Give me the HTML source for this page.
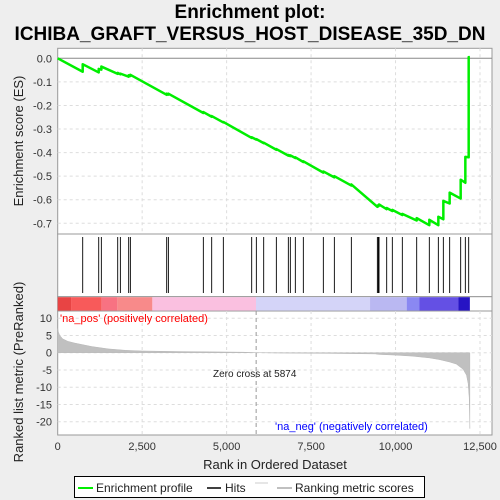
<!DOCTYPE html>
<html><head><meta charset="utf-8"><style>
html,body{margin:0;padding:0;background:#eeeeee;}
svg{display:block;font-family:"Liberation Sans","DejaVu Sans",sans-serif;}
</style></head><body>
<svg id="c" width="500" height="500" viewBox="0 0 500 500">
<rect x="0" y="0" width="500" height="500" fill="#eeeeee"/>
<text x="250" y="18" text-anchor="middle" font-size="19" font-weight="bold" fill="#000">Enrichment plot:</text>
<text x="250" y="40" text-anchor="middle" font-size="19" font-weight="bold" fill="#000">ICHIBA_GRAFT_VERSUS_HOST_DISEASE_35D_DN</text>
<g id="g"></g>
</svg>
<script>
const hitRanks=[740,1214,1292,1776,1855,2101,2151,3226,3276,4311,4558,4903,5742,5880,6097,6472,6827,6886,7034,7271,7863,8189,8692,9462,9491,9511,9738,9905,10201,10626,11000,11267,11415,11602,11928,12066,12165];
const esBefore=[-0.057,-0.060,-0.048,-0.066,-0.068,-0.078,-0.075,-0.155,-0.154,-0.232,-0.248,-0.272,-0.338,-0.345,-0.360,-0.388,-0.413,-0.415,-0.423,-0.440,-0.485,-0.505,-0.540,-0.630,-0.628,-0.625,-0.640,-0.648,-0.665,-0.688,-0.708,-0.708,-0.683,-0.616,-0.595,-0.528,-0.420];
const esAfter=[-0.025,-0.045,-0.035,-0.062,-0.065,-0.072,-0.070,-0.150,-0.150,-0.228,-0.245,-0.270,-0.335,-0.343,-0.358,-0.385,-0.410,-0.412,-0.420,-0.437,-0.480,-0.500,-0.535,-0.625,-0.623,-0.620,-0.635,-0.643,-0.660,-0.678,-0.685,-0.672,-0.605,-0.570,-0.515,-0.418,0.005];
const metricRanks=[0,20,60,150,300,500,700,1000,1500,2000,2500,3500,4500,5500,5874,6500,8000,9400,9500,10000,10500,11000,11300,11600,11800,12000,12100,12150,12180,12200];
const metricVals=[7,6,5,4,3.3,2.8,2.4,1.8,1.1,0.7,0.5,0.35,0.25,0.15,0,-0.1,-0.2,-0.35,-0.5,-0.7,-1.0,-1.5,-2.0,-2.7,-3.3,-4.8,-6.5,-9,-13,-22];
const barStarts=[0,395,1302,1766,2802,5870,9245,10330,10709,11864];
const barColors=["#e84444","#f85a5a","#f87282","#f88a8a","#fac0e0","#d4d4f8","#bab8f2","#8a88f2","#6450e4","#2614c4"];
const esTicks=[0,-0.1,-0.2,-0.3,-0.4,-0.5,-0.6,-0.7];
const metricTicks=[10,5,0,-5,-10,-15,-20];
const rankTicks=[0,2500,5000,7500,10000,12500];
const rankLabels=["0","2,500","5,000","7,500","10,000","12,500"];
const maxRank=12200;

const NS="http://www.w3.org/2000/svg";
const G=document.getElementById('g');
const L=57.7,R=492;
const X=r=>L+r*(480-57.7)/12500;
const YE=v=>58.3-v*(223.3-58.3)/0.7;
const YM=v=>352.7-v*(421.7-352.7)/20;
function mk(t,a,p){const e=document.createElementNS(NS,t);for(const k in a)e.setAttribute(k,a[k]);(p||G).appendChild(e);return e;}

// panels
let p1=mk('rect',{x:L,y:48.3,width:R-L,height:234-48.3,fill:'#fff',stroke:'#999'});


let p2=mk('rect',{x:L,y:234,width:R-L,height:296.7-234,fill:'#fff',stroke:'#999'});


let p3=mk('rect',{x:L,y:296.7,width:R-L,height:311-296.7,fill:'#fff',stroke:'#999'});


let p4=mk('rect',{x:L,y:311,width:R-L,height:435-311,fill:'#fff',stroke:'#999'});



// grids
rankTicks.forEach((r,i)=>{
 if(i===0)return;
 let g1=mk('line',{x1:X(r),x2:X(r),y1:48.3,y2:234,stroke:'#ddd','stroke-dasharray':'3,3'});
 
 
 let g2=mk('line',{x1:X(r),x2:X(r),y1:311,y2:435,stroke:'#ddd','stroke-dasharray':'3,3'});
 
 
});
esTicks.forEach(v=>{
 let g=mk('line',{x1:L,x2:R,y1:YE(v),y2:YE(v),stroke:v===0?'#888':'#ddd','stroke-dasharray':v===0?'':'3,3'});
 
 
 let t=mk('text',{x:52,y:YE(v)+4,'text-anchor':'end','font-size':11,fill:'#333'});
 t.textContent=v===0?'0.0':v.toFixed(1);
 
 
});
metricTicks.forEach(v=>{
 let g=mk('line',{x1:L,x2:R,y1:YM(v),y2:YM(v),stroke:'#ddd','stroke-dasharray':'3,3'});
 
 
 let t=mk('text',{x:52,y:YM(v)+4,'text-anchor':'end','font-size':11,fill:'#333'});
 t.textContent=String(v);
 
 
});
rankTicks.forEach((r,i)=>{
 let t=mk('text',{x:X(r),y:450,'text-anchor':'middle','font-size':11,fill:'#333'});
 t.textContent=rankLabels[i];
 
 
});

// color bar
barStarts.forEach((s,i)=>{
 const e=i<barStarts.length-1?barStarts[i+1]:maxRank;
 let b=mk('rect',{x:X(s),y:297.2,width:X(e)-X(s),height:13.4,fill:barColors[i]});
 
 
});

// hits
hitRanks.forEach(r=>{
 let h=mk('line',{x1:X(r),x2:X(r),y1:237,y2:293,stroke:'#000','stroke-width':0.9});
 
 
});

// metric area
let pts=[[X(0),YM(0)]];
metricRanks.forEach((r,i)=>pts.push([X(r),YM(metricVals[i])]));
pts.push([X(maxRank),YM(0)]);
let ma=mk('polygon',{points:pts.map(p=>p.join(',')).join(' '),fill:'#c0c0c0',stroke:'#b8b8b8','stroke-width':0.5});


let zc=mk('line',{x1:X(5874),x2:X(5874),y1:311,y2:435,stroke:'#999','stroke-dasharray':'4,3'});



// ES line
let ep=[[X(0),YE(0)]];
hitRanks.forEach((r,i)=>{ep.push([X(r),YE(esBefore[i])]);ep.push([X(r),YE(esAfter[i])]);});
ep.push([X(maxRank),YE(esAfter[esAfter.length-1])]);
let el=mk('polyline',{points:ep.map(p=>p.join(',')).join(' '),fill:'none',stroke:'#00ee00','stroke-width':2.5,'stroke-linejoin':'round'});



// labels
function txt(x,y,s,a,name,extra){let t=mk('text',Object.assign({x:x,y:y,'font-size':11,fill:'#000'},a||{}));t.textContent=s;return t;}
txt(60,322,"'na_pos' (positively correlated)",{fill:'#ff0000','font-size':11},'pos-label');
txt(275,430,"'na_neg' (negatively correlated)",{fill:'#0000ff','font-size':11},'neg-label');
txt(213,377,"Zero cross at 5874",{fill:'#222','font-size':10},'zero-cross-label');
txt(275,469,"Rank in Ordered Dataset",{'text-anchor':'middle','font-size':13,fill:'#222'},'x-axis-title');
txt(0,0,"Enrichment score (ES)",{'text-anchor':'middle','font-size':13,fill:'#222',transform:'translate(23,141) rotate(-90)'},'es-y-axis-title');
txt(0,0,"Ranked list metric (PreRanked)",{'text-anchor':'middle','font-size':13,fill:'#222',transform:'translate(23,372) rotate(-90)'},'metric-y-axis-title');

// legend
let lg=mk('rect',{x:74.5,y:476.5,width:350,height:21,fill:'#fff',stroke:'#000'});


let l1=mk('line',{x1:78,x2:93,y1:488,y2:488,stroke:'#00ee00','stroke-width':2});


txt(96,492,"Enrichment profile",{'font-size':12,fill:'#222'},'legend-enrichment-profile');
let l2=mk('line',{x1:207,x2:221,y1:488,y2:488,stroke:'#000','stroke-width':1.5});


txt(225,492,"Hits",{'font-size':12,fill:'#222'},'legend-hits');
let l3=mk('line',{x1:255,x2:268,y1:483,y2:483,stroke:'#ccc','stroke-width':1});


let l4=mk('line',{x1:277,x2:292,y1:488,y2:488,stroke:'#c0c0c0','stroke-width':2});


txt(295,492,"Ranking metric scores",{'font-size':12,fill:'#222'},'legend-ranking-metric');
</script>
</body></html>
